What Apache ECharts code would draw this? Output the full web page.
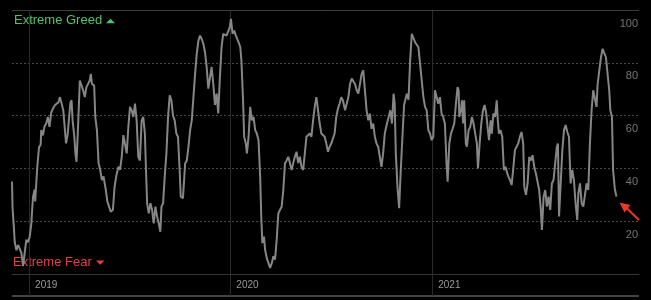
<!DOCTYPE html>
<html>
<head>
<meta charset="utf-8">
<script src="https://cdn.jsdelivr.net/npm/echarts@6/dist/echarts.min.js"></script>
<style>
  html, body { margin: 0; padding: 0; background: #000; }
  #chart { width: 651px; height: 300px; }
</style>
</head>
<body>
<div id="chart"></div>
<script>
// Fear & Greed index readings; dates given as days since the start date
const startDate = [2018, 11, 1]; // 2018-12-01
const dayOffsets = [
  0,1,3,5,8,11,14,17,20,23,26,29,32,35,38,41,42,46,49,52,53,56,59,62,65,68,71,75,78,81,84,87,90,93,96,98,101,103,106,108,110,113,115,117,120,123,126,129,132,135,138,141,143,145,149,151,154,157,160,163,166,170,173,176,179,
  183,186,189,193,196,199,202,205,208,211,214,217,220,223,226,229,232,235,238,241,243,245,248,251,254,257,260,263,266,269,271,274,277,280,283,286,289,292,295,298,301,304,306,310,314,317,320,323,326,329,332,335,338,341,344,347,350,353,356,359,
  362,365,368,371,374,377,380,383,386,389,392,395,397,400,403,406,409,412,414,416,419,421,424,426,429,432,435,438,441,444,447,450,452,454,457,459,462,465,468,471,474,477,480,483,486,489,492,495,498,501,504,507,510,513,516,519,522,525,528,531,534,537,540,
  543,546,549,552,555,558,561,564,567,570,573,576,579,582,585,588,591,594,597,600,604,607,610,613,616,619,622,625,628,631,634,637,640,643,646,649,652,655,658,661,664,667,670,673,676,680,683,686,689,692,694,696,699,702,705,708,711,714,716,
  719,722,725,728,731,734,737,740,743,746,749,752,755,758,761,764,767,770,773,776,779,782,785,788,790,793,796,799,802,805,808,810,811,814,816,818,820,823,825,828,831,834,837,840,843,845,848,851,854,857,860,863,865,868,870,873,876,879,881,883,886,889,892,895,898,
  900,903,906,909,912,915,918,921,924,927,929,932,935,938,941,944,947,950,953,956,959,961,964,967,970,973,976,979,982,985,988,990,992,995,998,1001,1004,1007,1010,1013,1016,1019,1022,1025,1027,1030,1033,1036,1039,1042,1045,1048,1051,1054,1057,1060,1062,1065,1068,1071,1074,1077,1080,1083,1085,1088,1090,1093,1095,1096
];
const fgIndex = [
  35,25,19,12,9,11,11.5,8,3,2.5,13,12,14,19,29,32,27.5,41,48,49,54.5,52.5,56,57,59.5,55.7,61,63,64,63.3,65,67,67.7,62,54.5,49.5,53,58,65,65.8,58,52,45.7,42.5,57,73.3,72.7,69.6,67,70.8,71.4,73.3,75.8,72,71.4,59.5,54.5,42,39.4,35.6,37,32,27.4,25.5,23.6,
  24.3,33,37,40.6,39.5,44.4,52.6,52,45.7,55.7,63.3,62,59.5,64.5,58.2,44.4,43,58,59.5,53.2,39.4,26.8,23,26.8,24.3,19.2,25.5,21.8,19.2,16,25.5,26.8,37,45.7,59.5,67.7,65.8,60,58.2,53.2,52,39.4,29.3,28.7,41.9,43,48.2,54.5,58.2,67,75.8,83.4,88.4,90.3,89,87.2,84,78.4,70.2,69.6,
  78.4,72,64,68.3,60.8,74.6,85.9,91,91.6,90.3,91,93.5,96.6,91,92.2,90.3,89.7,87.2,85.9,80.9,65.8,52,49.4,45.7,52,63.3,58.2,59.5,54.5,53.2,50.7,37,21.8,11.7,14.2,9.2,6,4.2,2.3,4,6.7,5.5,13,23,24.3,25.5,31.8,41.9,43,44.4,42,39.4,42,44.4,46.3,42,44.4,40.6,39.4,45.7,52,52,53.2,
  52,58.2,63.3,67,66.5,57,53.2,52.5,52,49.4,46.3,48.2,49.4,48.8,53.2,59.5,62.6,64.5,67,65.8,62,64.5,67,72,74,73.3,72,69.6,68.3,72,75.8,77.1,76.5,62,58.2,60.8,55,57,52,49.4,48.2,44.4,40.6,45.7,53.2,57,59.5,62,57,68.3,64.5,45.7,33,24.9,39.4,52,64,64.5,68.3,
  66,80.9,91,90.3,87.8,88.5,85.9,79.6,73.3,67,63.3,62,54.5,53.2,50.7,52,69.6,69,64.5,67,60.8,59.5,57,41.9,35,49.4,53.2,55,57,64.5,70.8,69.6,59.5,62,65.8,57,65.8,49.4,48.2,54.5,55.7,59.5,57,53.2,49.4,40,49.4,57,62,64,60.8,54.5,50.7,58.2,53.2,60.8,59.5,65.8,58.2,53.2,54.5,52,39.4,40.6,38.1,
  37,35.6,33.7,40,46.9,48.2,49.4,52,53.8,49.4,33,30,34.3,44.4,43,45,40.6,38.1,38.1,31.8,24.3,16.7,29.3,31.8,25.5,29.3,24.3,34.3,35.6,41.9,48.2,49.4,21.8,34.3,46.9,54.5,56.4,53.8,52,34.3,39.4,35.6,26.8,20.5,30.5,34.3,26.8,25.5,25,34.3,31.8,49.4,62,69.6,69,63.3,72,77.1,82.1,85.3,85.9,82.1,81.5,69.6,62,59.5,39.4,32.5,31.8,29.3
];
const yearTicks = [2019, 2020, 2021];
const axisStart = [2018, 11, 1];
const axisEnd = [2022, 0, 11];
const greedLabel = 'Extreme Greed';
const fearLabel = 'Extreme Fear';

const toTime = d => new Date(startDate[0], startDate[1], startDate[2] + d).getTime();
const seriesData = dayOffsets.map((d, i) => [toTime(d), fgIndex[i]]);
const yearValues = yearTicks.map(y => new Date(y, 0, 1).getTime());

const chart = echarts.init(document.getElementById('chart'), null, { renderer: 'canvas' });
chart.setOption({
  backgroundColor: '#000',
  animation: false,
  textStyle: { fontFamily: 'Liberation Sans, Arial, sans-serif' },
  grid: { left: 12, right: 12, top: 10, bottom: 26, containLabel: false },
  xAxis: {
    type: 'value',
    min: new Date(...axisStart).getTime(),
    max: new Date(...axisEnd).getTime(),
    axisLine: { show: true, lineStyle: { color: '#333', width: 1 } },
    axisTick: { show: true, length: 22, customValues: yearValues, lineStyle: { color: '#2a2a2a', width: 1 } },
    splitLine: { show: true, lineStyle: { color: '#2a2a2a', width: 1 } },
    axisLabel: {
      customValues: yearValues,
      formatter: v => String(new Date(v).getFullYear()),
      color: '#9a9a9a', fontSize: 10, align: 'left', verticalAlign: 'top',
      margin: 6, padding: [0, 0, 0, 6]
    }
  },
  yAxis: {
    type: 'value', position: 'right', min: 0, max: 100, interval: 20,
    axisLine: { show: false }, axisTick: { show: false },
    splitLine: { show: true, lineStyle: { color: '#4a4a4a', type: [2, 2], width: 1 } },
    axisLabel: {
      inside: true, showMinLabel: false, color: '#767676', fontSize: 11,
      verticalAlign: 'top', margin: 1, padding: [8, 0, 0, 0]
    }
  },
  series: [{
    type: 'line',
    data: seriesData,
    showSymbol: false,
    lineStyle: { color: '#868686', width: 2 },
    itemStyle: { color: '#868686' },
    markLine: {
      silent: true, symbol: 'none', label: { show: false },
      lineStyle: { color: '#3c3c3c', type: 'solid', width: 1 },
      data: [{ yAxis: 100 }]
    }
  }],
  graphic: [
    { type: 'rect', shape: { x: 12, y: 295, width: 627, height: 2 }, style: { fill: '#444' }, silent: true },
    { type: 'text', x: 14, y: 20, style: { text: greedLabel, fill: '#4fc36b', font: '13px Liberation Sans, Arial, sans-serif', verticalAlign: 'middle' } },
    { type: 'polygon', shape: { points: [[106, 23.3], [115, 23.3], [110.5, 18.7]] }, style: { fill: '#4fc36b' } },
    { type: 'text', x: 13, y: 262, style: { text: fearLabel, fill: '#e0404a', font: '13px Liberation Sans, Arial, sans-serif', verticalAlign: 'middle' } },
    { type: 'polygon', shape: { points: [[96, 260.5], [104.5, 260.5], [100.25, 264.8]] }, style: { fill: '#e0404a' } },
    { type: 'line', shape: { x1: 626, y1: 207.5, x2: 639, y2: 220 }, style: { stroke: '#f0352a', lineWidth: 2 } },
    { type: 'polygon', shape: { points: [[619.5, 202.5], [630.5, 205], [624.5, 212.5]] }, style: { fill: '#f0352a' } }
  ]
});
</script>
</body>
</html>
